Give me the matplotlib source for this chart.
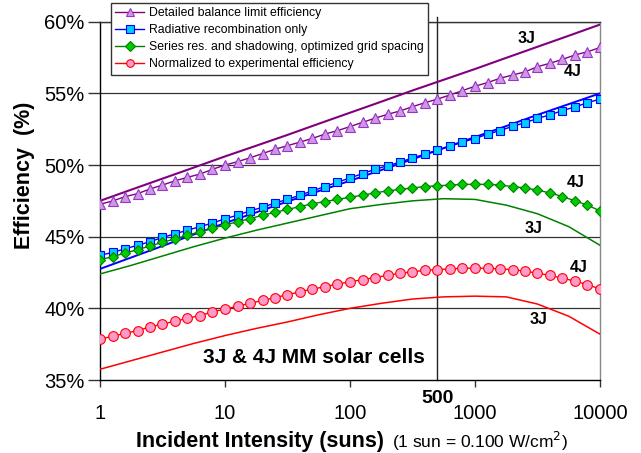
import matplotlib
matplotlib.use("Agg")
import matplotlib.pyplot as plt
from matplotlib.ticker import FixedLocator, NullLocator

plt.rcParams['font.family'] = ['Liberation Sans', 'DejaVu Sans']

# ---- data ----
mantissa = [1.0, 1.26, 1.58, 2.0, 2.51, 3.16, 3.98, 5.01, 6.31, 7.94]
suns_4j = [m * 10 ** d for d in range(4) for m in mantissa] + [10000.0]

mant_q = [1.0, 1.78, 3.16, 5.62]
suns_3j = [m * 10 ** d for d in range(4) for m in mant_q] + [10000.0]

# 4J series (markers)
detailed_4j = [47.26, 47.49, 47.79, 48.0, 48.33, 48.6, 48.9, 49.14, 49.37, 49.7,
               50.0, 50.23, 50.5, 50.8, 51.1, 51.35, 51.6, 51.86, 52.16, 52.4,
               52.68, 52.98, 53.26, 53.54, 53.77, 54.07, 54.35, 54.6, 54.89, 55.19,
               55.5, 55.75, 56.05, 56.28, 56.5, 56.86, 57.1, 57.37, 57.68, 57.9, 58.2]
radiative_4j = [43.7, 43.9, 44.15, 44.4, 44.65, 44.95, 45.2, 45.45, 45.7, 45.95,
                46.25, 46.5, 46.8, 47.05, 47.35, 47.6, 47.9, 48.2, 48.5, 48.8,
                49.1, 49.4, 49.7, 49.95, 50.2, 50.5, 50.75, 51.05, 51.3, 51.6,
                51.85, 52.15, 52.4, 52.7, 52.95, 53.25, 53.5, 53.8, 54.05, 54.35, 54.6]
series_4j = [43.4, 43.6, 43.85, 44.1, 44.35, 44.6, 44.85, 45.1, 45.35, 45.6,
             45.8, 46.05, 46.25, 46.5, 46.7, 46.9, 47.1, 47.3, 47.45, 47.6,
             47.75, 47.9, 48.05, 48.2, 48.3, 48.4, 48.5, 48.55, 48.6, 48.65,
             48.65, 48.65, 48.6, 48.5, 48.4, 48.25, 48.05, 47.8, 47.5, 47.2, 46.8]
normalized_4j = [37.85, 38.05, 38.25, 38.45, 38.7, 38.9, 39.1, 39.3, 39.5, 39.75,
                 39.95, 40.15, 40.35, 40.55, 40.75, 40.95, 41.15, 41.35, 41.5, 41.7,
                 41.85, 42.0, 42.15, 42.3, 42.45, 42.55, 42.65, 42.7, 42.75, 42.8,
                 42.8, 42.8, 42.75, 42.7, 42.6, 42.45, 42.3, 42.1, 41.9, 41.65, 41.35]

# 3J series (lines)
detailed_3j = [47.5, 48.28, 49.05, 49.82, 50.6, 51.35, 52.1, 52.88, 53.65,
               54.42, 55.2, 55.95, 56.7, 57.48, 58.25, 59.02, 59.8]
radiative_3j = [42.75, 43.55, 44.35, 45.15, 45.95, 46.7, 47.45, 48.18, 48.9,
                49.65, 50.4, 51.18, 51.95, 52.72, 53.5, 54.25, 55.0]
series_3j = [42.4, 43.0, 43.65, 44.3, 44.9, 45.45, 45.95, 46.45, 46.95,
             47.25, 47.5, 47.65, 47.6, 47.2, 46.6, 45.7, 44.4]
normalized_3j = [35.75, 36.35, 36.95, 37.55, 38.1, 38.6, 39.05, 39.55, 40.0,
                 40.35, 40.65, 40.8, 40.85, 40.8, 40.3, 39.45, 38.2]

legend_labels = ["Detailed balance limit efficiency",
                 "Radiative recombination only",
                 "Series res. and shadowing, optimized grid spacing",
                 "Normalized to experimental efficiency"]
x_ticks = [1, 10, 100, 1000, 10000]
x_ticklabels = ["1", "10", "100", "1000", "10000"]
y_ticks = [35, 40, 45, 50, 55, 60]
y_ticklabels = ["35%", "40%", "45%", "50%", "55%", "60%"]

# ---- figure ----
W, H = 641, 453
fig = plt.figure(figsize=(W / 100, H / 100), dpi=100)
ax = fig.add_axes([100 / W, 1 - 380 / H, 500 / W, (380 - 21.7) / H])

ax.set_xscale('log')
ax.set_xlim(1, 10000)
ax.set_ylim(35, 60)

# grid lines
for yv in y_ticks[1:]:
    ax.axhline(yv, color='#333333', lw=0.9, zorder=1)
ax.axvline(500, ymin=0, ymax=1.012, color='#222222', lw=1.0, zorder=1, clip_on=False)

# 3J lines
ax.plot(suns_3j, detailed_3j, color='#800080', lw=1.5, zorder=3)
ax.plot(suns_3j, radiative_3j, color='#0000FF', lw=1.4, zorder=3)
ax.plot(suns_3j, series_3j, color='#008000', lw=1.1, zorder=3)
ax.plot(suns_3j, normalized_3j, color='#FF0000', lw=1.1, zorder=3)

# 4J marker series
h1, = ax.plot(suns_4j, detailed_4j, color='#800080', lw=1.0, marker='^', ms=7.5,
              mfc='#CC99E0', mec='#9933CC', mew=0.8, zorder=4)
h2, = ax.plot(suns_4j, radiative_4j, color='#0000FF', lw=1.0, marker='s', ms=6,
              mfc='#00CCFF', mec='#0000FF', mew=0.8, zorder=4)
h3, = ax.plot(suns_4j, series_4j, color='#008000', lw=1.0, marker='D', ms=5.5,
              mfc='#00CC00', mec='#008000', mew=0.8, zorder=4)
h4, = ax.plot(suns_4j, normalized_4j, color='#FF0000', lw=1.0, marker='o', ms=7,
              mfc='#FF99CC', mec='#FF0000', mew=0.8, zorder=4)

# spines
for s in ['top', 'right']:
    ax.spines[s].set_color('#888888')
    ax.spines[s].set_linewidth(1.0)
ax.spines['top'].set_color('#333333')
for s in ['left', 'bottom']:
    ax.spines[s].set_color('#000000')
    ax.spines[s].set_linewidth(1.0)

ax.xaxis.set_major_locator(FixedLocator(x_ticks))
ax.xaxis.set_minor_locator(NullLocator())
ax.set_xticklabels(x_ticklabels, fontsize=14.5)
ax.set_yticks(y_ticks)
ax.set_yticklabels(y_ticklabels, fontsize=14.5)
ax.tick_params(axis='y', direction='out', length=9, width=1, color='#333333', pad=2)
ax.tick_params(axis='x', direction='out', length=5, width=1, color='#333333', pad=12.5)

# axis titles
fig.text(260 / W, 1 - 441 / H, "Incident Intensity (suns)", fontsize=15.5,
         fontweight='bold', ha='center', va='center')
fig.text(25 / W, 1 - 175 / H, "Efficiency  (%)", fontsize=15.5,
         fontweight='bold', ha='center', va='center', rotation=90)
fig.text(480 / W, 1 - 441 / H, "(1 sun = 0.100 W/cm$^2$)", fontsize=12.5,
         ha='center', va='center')

# annotations
ax.text(500, 34.3, "500", fontsize=14, fontweight='bold', ha='center', va='top',
        clip_on=False)
ax.text(51.5, 36.56, "3J & 4J MM solar cells", fontsize=15, fontweight='bold',
        ha='center', va='center')
lab_kw = dict(fontsize=11.5, fontweight='bold', ha='center', va='center')
ax.text(2570, 58.8, "3J", **lab_kw)
ax.text(6000, 56.5, "4J", **lab_kw)
ax.text(6400, 48.8, "4J", **lab_kw)
ax.text(2950, 45.6, "3J", **lab_kw)
ax.text(6800, 42.87, "4J", **lab_kw)
ax.text(3250, 39.2, "3J", **lab_kw)

leg = ax.legend([h1, h2, h3, h4], legend_labels, loc='upper left',
                bbox_to_anchor=(110.7 / W, 1 - 2.7 / H), bbox_transform=fig.transFigure,
                fontsize=8.8, frameon=True, fancybox=False, framealpha=1,
                edgecolor='#333333', borderpad=0.35, labelspacing=0.42,
                handlelength=2.4, handletextpad=0.35, borderaxespad=0)
leg.get_frame().set_linewidth(1.0)
leg.set_zorder(10)
for lh in leg.legend_handles:
    lh.set_markersize(5.5)

fig.savefig("out.png", dpi=100)
